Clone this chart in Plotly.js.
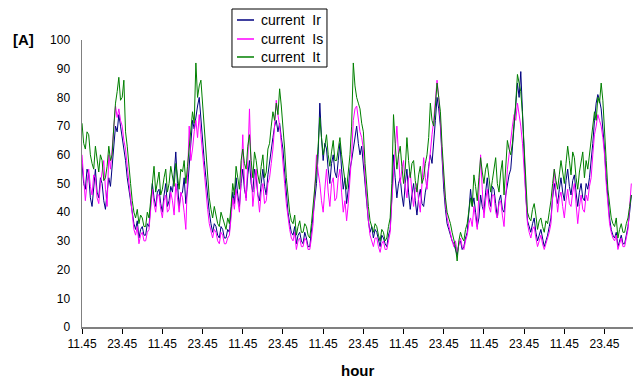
<!DOCTYPE html>
<html>
<head>
<meta charset="utf-8">
<script src="https://cdn.plot.ly/plotly-3.0.1.min.js"></script>
<style>html,body{margin:0;padding:0;background:#fff}#chart{width:633px;height:378px}</style>
</head>
<body>
<div id="chart"></div>
<script>
// half-hourly samples, first sample at 11.45
const tickLabels = ["11.45","23.45","11.45","23.45","11.45","23.45","11.45","23.45","11.45","23.45","11.45","23.45","11.45","23.45"];
const seriesNames = ["current\u00a0 Ir","current\u00a0 Is","current\u00a0 It"];
const xTitle = "hour";
const yUnit = "[A]";

const currentIr = [
57,50,48,55,53,45,42,49,55,47,45,52,50,44,41,47,52,49,57,64,70,68,74,70,66,62,58,52,48,43,40,36,34,37,31,34,35,32,32,36,35,44,
50,45,42,47,48,43,40,46,50,42,44,49,47,53,61,50,42,46,47,52,43,48,55,62,72,69,74,77,80,72,66,58,52,45,40,36,33,36,35,32,31,35,34,31,31,34,33,40,
47,43,52,46,42,50,55,48,45,53,58,50,47,55,52,46,44,50,55,49,46,53,58,62,66,70,72,68,71,66,62,54,46,40,36,33,32,35,29,32,33,30,29,33,31,28,28,33,38,44,
50,60,78,66,58,64,62,55,50,57,60,54,52,58,64,55,48,52,43,48,55,58,62,66,70,64,60,63,56,48,42,37,33,35,31,34,33,30,28,32,31,29,28,32,34,45,
60,52,45,50,52,46,42,50,55,47,41,46,50,44,39,45,48,43,42,47,50,56,60,57,66,72,80,76,70,58,48,41,36,34,32,30,29,27,25,29,30,27,28,31,33,40,
48,42,45,40,35,38,46,42,40,47,52,45,42,49,48,43,38,44,46,41,40,46,50,53,55,62,70,76,85,80,89,75,58,46,37,35,33,36,38,33,30,32,34,31,28,30,32,35,
38,45,50,46,43,48,52,47,44,51,55,49,46,51,53,47,42,47,50,45,44,50,48,52,57,64,72,78,81,79,76,70,62,52,44,38,34,32,31,33,28,30,32,29,29,32,35,40,46];

const currentIs = [
60,52,44,50,55,49,46,53,52,45,43,50,55,58,48,42,60,55,62,70,77,73,76,72,70,65,62,56,50,44,38,34,32,35,29,32,33,30,30,33,34,42,
48,43,40,46,46,41,38,44,46,40,41,47,44,39,50,45,40,47,45,40,34,52,70,58,62,68,72,66,74,67,60,54,48,41,36,33,31,34,33,30,29,33,32,29,29,31,32,38,
45,41,48,44,40,52,67,50,44,58,76,55,42,48,55,46,40,47,50,43,44,50,52,57,62,70,79,74,70,64,58,50,43,38,34,31,30,33,27,30,31,28,28,31,30,27,27,31,36,48,
60,54,50,44,40,48,55,47,42,50,52,44,45,52,55,47,40,44,37,43,50,60,72,76,77,72,68,66,62,52,44,37,32,30,28,31,31,28,26,29,30,27,27,30,33,44,
55,62,70,58,50,55,58,49,45,52,54,47,42,48,50,44,40,50,59,52,48,55,62,67,72,78,86,80,72,60,50,43,38,35,33,30,28,30,26,29,31,28,27,30,32,36,
38,35,42,38,34,47,60,48,38,44,48,42,40,46,46,40,38,43,44,39,35,45,55,60,66,70,74,72,78,74,70,64,55,44,36,33,31,34,35,31,28,30,32,29,27,29,31,33,
36,45,55,47,40,45,47,42,38,44,48,43,42,47,50,43,36,42,46,41,40,46,44,49,52,60,67,70,74,72,70,66,60,50,42,36,33,31,30,32,27,29,31,28,28,31,34,42,50];

const currentIt = [
71,64,62,68,67,60,57,55,63,58,54,60,58,51,52,56,63,58,60,70,78,82,87,79,80,86,68,63,55,50,44,40,38,41,36,39,38,35,35,40,38,45,
52,56,47,51,54,46,48,52,55,47,50,56,53,49,57,52,48,55,54,58,50,56,62,68,75,71,92,80,84,86,78,70,62,54,45,41,38,42,39,36,35,40,38,36,34,38,36,42,
50,46,56,52,48,58,62,57,55,63,67,58,52,61,58,53,50,56,60,52,54,62,64,70,75,72,78,74,83,77,70,62,52,45,40,37,36,39,32,35,37,33,33,36,35,32,31,36,42,48,
55,63,73,66,60,63,67,60,56,61,65,58,58,62,66,60,55,51,48,53,60,70,92,84,80,78,76,71,68,57,48,42,37,35,33,36,35,32,30,34,33,30,31,35,38,50,
74,64,55,60,63,56,50,55,66,58,52,57,58,51,47,53,56,50,52,57,60,66,78,72,70,77,85,80,75,63,52,45,40,38,36,33,30,28,23,30,33,31,30,34,36,41,
45,42,53,49,44,52,59,54,50,55,57,52,47,51,55,59,50,47,54,58,46,55,65,62,60,64,70,78,88,85,82,74,62,50,40,38,37,41,43,39,34,37,38,35,33,37,36,40,
44,50,55,51,48,53,58,54,50,57,63,58,53,61,59,52,48,54,57,61,52,58,55,60,63,70,75,72,80,78,85,79,70,58,48,42,38,36,35,38,31,34,36,33,33,36,38,42,46];

const colors = ["#000080","#FF00FF","#008000"];
const allSeries = [currentIr, currentIs, currentIt];

const traces = allSeries.map((vals, k) => ({
  x: vals.map((_, i) => i * 0.5),
  y: vals,
  type: "scatter",
  mode: "lines",
  name: seriesNames[k],
  line: {color: colors[k], width: 1},
  showlegend: false
}));

const tickVals = tickLabels.map((_, i) => i * 12);

// hand-built legend (short line samples like the original)
const lgX0 = 0.2722, lgX1 = 0.4446, lgY0 = 0.9059, lgY1 = 1.108;
const rowY = [1.0697, 1.0035, 0.9408];
const shapes = [{type: "rect", xref: "paper", yref: "paper", x0: lgX0, x1: lgX1, y0: lgY0, y1: lgY1,
                 line: {color: "#000", width: 1}, fillcolor: "#fff", layer: "above"}];
const annotations = [];
seriesNames.forEach((nm, k) => {
  shapes.push({type: "line", xref: "paper", yref: "paper", x0: 0.2813, x1: 0.3122, y0: rowY[k], y1: rowY[k],
               line: {color: colors[k], width: 1.5}, layer: "above"});
  annotations.push({text: nm, xref: "paper", yref: "paper", x: 0.3212, y: rowY[k],
               xanchor: "left", yanchor: "middle", showarrow: false, font: {size: 14}});
});
annotations.push({text: "<b>" + yUnit + "</b>", xref: "paper", yref: "paper",
  x: -0.106, y: 1.003, xanchor: "center", yanchor: "middle", showarrow: false, font: {size: 15}});
annotations.push({text: "<b>" + xTitle + "</b>", xref: "paper", yref: "paper",
  x: 0.5, y: -0.15, xanchor: "center", yanchor: "middle", showarrow: false, font: {size: 15}});

const layout = {
  width: 633, height: 378,
  margin: {l: 82, r: 0, t: 40, b: 51},
  paper_bgcolor: "#fff", plot_bgcolor: "#fff",
  font: {family: "Liberation Sans, Arial, sans-serif", size: 12, color: "#000"},
  showlegend: false,
  xaxis: {
    range: [0, 164.5],
    tickvals: tickVals, ticktext: tickLabels,
    showgrid: false, zeroline: false,
    showline: true, linecolor: "#808080", linewidth: 1.5,
    ticks: "outside", ticklen: 5, tickcolor: "#000", tickwidth: 1,
    tickfont: {size: 12}
  },
  yaxis: {
    range: [0, 100], dtick: 10,
    showgrid: false, zeroline: false,
    showline: true, linecolor: "#808080", linewidth: 1.5,
    ticks: "outside", ticklen: 8, tickcolor: "rgba(0,0,0,0)",
    tickfont: {size: 12}
  },
  shapes: shapes,
  annotations: annotations
};

Plotly.newPlot("chart", traces, layout, {displayModeBar: false, staticPlot: true});
</script>
</body>
</html>
